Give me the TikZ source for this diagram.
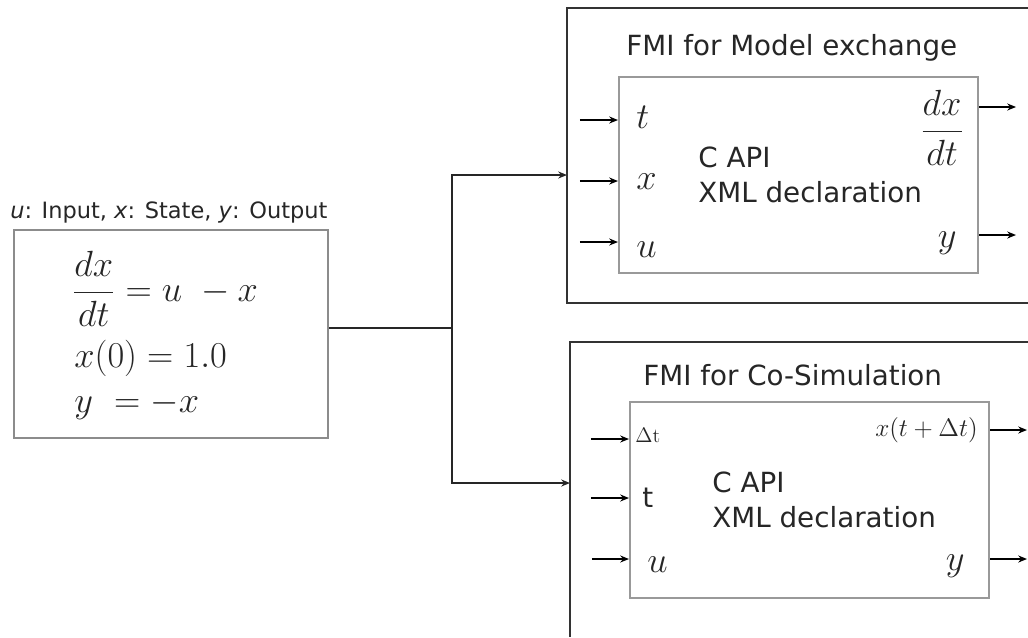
\documentclass[tikz,border=0pt]{standalone}
\usepackage{amsmath}
\usepackage{amssymb}
\usepackage{fontspec}
\newfontfamily\fmisans{DejaVu Sans}
\usetikzlibrary{arrows.meta}

\tikzset{
  frame/.style={draw=black!80, line width=1.3pt},
  apibox/.style={draw=black!40, line width=1.2pt, minimum width=7.18cm, minimum height=3.92cm},
  sig/.style={-{Stealth[length=5pt,width=4pt]}, line width=0.9pt},
  wire/.style={draw=black!85, line width=1.4pt},
  txt/.style={font=\fmisans\fontsize{15.8}{19.4}\selectfont, text=black!85, inner sep=0pt},
  mth/.style={font=\fontsize{20}{24}\selectfont, text=black!85, inner sep=0pt},
  eqn/.style={font=\fontsize{20.5}{24}\selectfont, text=black!85, inner sep=0pt}
}

\begin{document}
\begin{tikzpicture}[x=0.02cm, y=-0.02cm]
\useasboundingbox (0,0) rectangle (1028,637);

% the model
\node[draw=black!45, line width=1.2pt, minimum width=6.28cm, minimum height=4.16cm] (model) at (171,334) {};
\node[txt, font=\fmisans\fontsize{12.8}{15}\selectfont, anchor=base west] (legend) at (10,218)
  {\textit{u}: Input, \textit{x}: State, \textit{y}: Output};
\node[eqn, anchor=west] (eqdx) at (72,289) {$\dfrac{dx}{dt} = u\ - x$};
\node[eqn, anchor=base west] (eqx0) at (74,367) {$x(0) = 1.0$};
\node[eqn, anchor=base west] (eqy) at (74,412) {$y\ = -x$};

% split to both interfaces
\coordinate (split) at (452,328);
\coordinate (mexin) at (567,175);
\coordinate (csin) at (570,483);
\draw[wire] (model.east |- split) -- (split);
\draw[wire, sig] (split) |- (mexin);
\draw[wire, sig] (split) |- (csin);

% FMI for model exchange
\draw[frame] (1028,8) -| (567,303) -- (1028,303);
\node[txt, anchor=base west] (mextitle) at (626,55) {FMI for Model exchange};
\node[apibox] (mexapi) at (798.5,175) {};
\node[txt, anchor=base west, align=left] (mextext) at (698,202) {C API\\XML declaration};
\foreach \yy/\bl/\lab in {120/128/t, 181/189/x, 242/257/u} {
  \draw[sig] (mexapi.west |- 0,\yy) ++(-38,0) -- (mexapi.west |- 0,\yy);
  \node[mth, anchor=base west] (mex\lab) at (636,\bl) {$\lab$};
}
\node[mth, anchor=east] (mexdx) at (964,128) {$\dfrac{dx}{dt}$};
\node[mth, anchor=base east] (mexy) at (957,247) {$y$};
\draw[sig] (mexapi.east |- 0,107) -- ++(37,0);
\draw[sig] (mexapi.east |- 0,235) -- ++(37,0);

% FMI for co-simulation
\draw[frame] (1028,342) -| (570,637);
\node[txt, anchor=base west] (cstitle) at (643,385) {FMI for Co-Simulation};
\node[apibox] (csapi) at (809.5,500) {};
\node[txt, anchor=base west, align=left] (cstext) at (712,527) {C API\\XML declaration};
\draw[sig] (csapi.west |- 0,439) ++(-38,0) -- (csapi.west |- 0,439);
\draw[sig] (csapi.west |- 0,498) ++(-38,0) -- (csapi.west |- 0,498);
\draw[sig] (csapi.west |- 0,559) ++(-37,0) -- (csapi.west |- 0,559);
\node[font=\fontsize{11.5}{13}\selectfont, text=black!85, inner sep=0pt, anchor=base west] (csdt) at (635,442) {$\Delta\mathrm{t}$};
\node[txt, anchor=base west] (cst) at (642,507) {t};
\node[mth, anchor=base west] (csu) at (647,572) {$u$};
\node[mth, font=\fontsize{15}{18}\selectfont, anchor=base east] (csx) at (978,436) {$x(t+\Delta t)$};
\node[mth, anchor=base east] (csy) at (965,570) {$y$};
\draw[sig] (csapi.east |- 0,430) -- ++(37,0);
\draw[sig] (csapi.east |- 0,559) -- ++(37,0);
\end{tikzpicture}
\end{document}
